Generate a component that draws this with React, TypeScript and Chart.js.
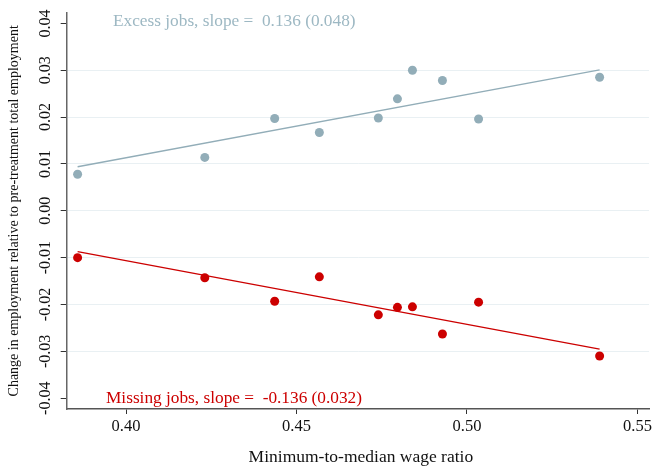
import React, { useEffect, useRef } from "react";
import { Chart, registerables } from "chart.js";

Chart.register(...registerables);

// Minimum-to-median wage ratio for each bin
const wageRatio = [0.3858, 0.4231, 0.4436, 0.4567, 0.474, 0.4796, 0.484, 0.4928, 0.5034, 0.5389];

// Change in employment relative to pre-treatment total employment
const excessJobs = [0.0078, 0.0114, 0.0197, 0.0167, 0.0198, 0.0239, 0.03, 0.0278, 0.0196, 0.0285];
const missingJobs = [-0.01, -0.0143, -0.0193, -0.0141, -0.0222, -0.0206, -0.0205, -0.0263, -0.0195, -0.031];

// Fitted values at the ends of the wage-ratio range
const fitX = [0.3858, 0.5389];
const excessFit = [0.0094, 0.0301];
const missingFit = [-0.0087, -0.0295];

const xTicks = [0.4, 0.45, 0.5, 0.55];
const yTicks = [-0.04, -0.03, -0.02, -0.01, 0, 0.01, 0.02, 0.03, 0.04];

const excessLabel = "Excess jobs, slope =  0.136 (0.048)";
const missingLabel = "Missing jobs, slope =  -0.136 (0.032)";
const xTitle = "Minimum-to-median wage ratio";
const yTitle = "Change in employment relative to pre-treatment total employment";

const BLUE = "#92adb8";
const BLUE_TEXT = "#9db8c3";
const RED = "#cc0000";
const SERIF = "'Liberation Serif', 'Times New Roman', serif";

const pairs = (xs: number[], ys: number[]) => xs.map((x, i) => ({ x, y: ys[i] }));

export default function App() {
  const ref = useRef<HTMLCanvasElement | null>(null);

  useEffect(() => {
    document.body.style.margin = "0";
    const canvas = ref.current;
    if (!canvas) return;

    const textPlugin = {
      id: "textPlugin",
      afterDraw(chart: any) {
        const ctx = chart.ctx as CanvasRenderingContext2D;
        const ys = chart.scales.y;
        const xs = chart.scales.x;
        ctx.save();
        // rotated y tick labels
        ctx.fillStyle = "#111";
        ctx.font = `16px ${SERIF}`;
        ctx.textAlign = "center";
        ctx.textBaseline = "middle";
        yTicks.forEach((v) => {
          const py = ys.getPixelForValue(v);
          ctx.save();
          ctx.translate(46, py);
          ctx.rotate(-Math.PI / 2);
          ctx.fillText(v.toFixed(2), 0, 0);
          ctx.restore();
        });
        // y axis title
        ctx.font = `14px ${SERIF}`;
        ctx.save();
        ctx.translate(14, (chart.chartArea.top + chart.chartArea.bottom) / 2);
        ctx.rotate(-Math.PI / 2);
        ctx.fillText(yTitle, 0, 0);
        ctx.restore();
        // x axis title
        ctx.font = `17.5px ${SERIF}`;
        ctx.fillText(xTitle, (xs.left + xs.right) / 2 + 3, 457);
        // series annotations
        ctx.textAlign = "left";
        ctx.font = `17.3px ${SERIF}`;
        ctx.fillStyle = BLUE_TEXT;
        ctx.fillText(excessLabel, 113, 21);
        ctx.fillStyle = RED;
        ctx.fillText(missingLabel, 106, 398);
        ctx.restore();
      },
    };

    const chart = new Chart(canvas, {
      type: "scatter",
      data: {
        datasets: [
          {
            type: "line",
            data: pairs(fitX, excessFit),
            borderColor: BLUE,
            borderWidth: 1.3,
            pointRadius: 0,
            fill: false,
          },
          {
            type: "line",
            data: pairs(fitX, missingFit),
            borderColor: RED,
            borderWidth: 1.3,
            pointRadius: 0,
            fill: false,
          },
          {
            data: pairs(wageRatio, excessJobs),
            backgroundColor: BLUE,
            borderColor: BLUE,
            pointRadius: 4.5,
            borderWidth: 0,
          },
          {
            data: pairs(wageRatio, missingJobs),
            backgroundColor: RED,
            borderColor: RED,
            pointRadius: 4.5,
            borderWidth: 0,
          },
        ],
      },
      options: {
        animation: false,
        responsive: false,
        events: [],
        layout: { padding: { top: 12, right: 5, left: 0, bottom: 0 } },
        plugins: { legend: { display: false }, tooltip: { enabled: false } },
        scales: {
          x: {
            type: "linear",
            min: 0.3826,
            max: 0.5534,
            afterBuildTicks: (s: any) => {
              s.ticks = xTicks.map((v) => ({ value: v }));
            },
            afterFit: (s: any) => {
              s.height = 57;
            },
            border: { color: "#555", width: 1.5 },
            grid: { display: true, drawOnChartArea: false, drawTicks: true, tickLength: 5, color: "#333" },
            ticks: {
              color: "#111",
              font: { family: SERIF, size: 16.5 },
              padding: 3,
              maxRotation: 0,
              callback: (v: any) => Number(v).toFixed(2),
            },
          },
          y: {
            type: "linear",
            min: -0.0423,
            max: 0.0423,
            afterBuildTicks: (s: any) => {
              s.ticks = yTicks.map((v) => ({ value: v }));
            },
            afterFit: (s: any) => {
              s.width = 66.7;
            },
            border: { color: "#666", width: 1.5 },
            grid: {
              tickLength: 6,
              tickColor: "#333",
              color: (c: any) =>
                c.tick && Math.abs(c.tick.value) > 0.035 ? "rgba(0,0,0,0)" : "#e9f0f3",
              lineWidth: 1,
            },
            ticks: { color: "rgba(0,0,0,0)", font: { size: 16 } },
          },
        },
      },
      plugins: [textPlugin],
    });

    return () => chart.destroy();
  }, []);

  return (
    <div style={{ width: 655, height: 466, background: "#fff" }}>
      <canvas ref={ref} width={655} height={466} style={{ display: "block" }} />
    </div>
  );
}
